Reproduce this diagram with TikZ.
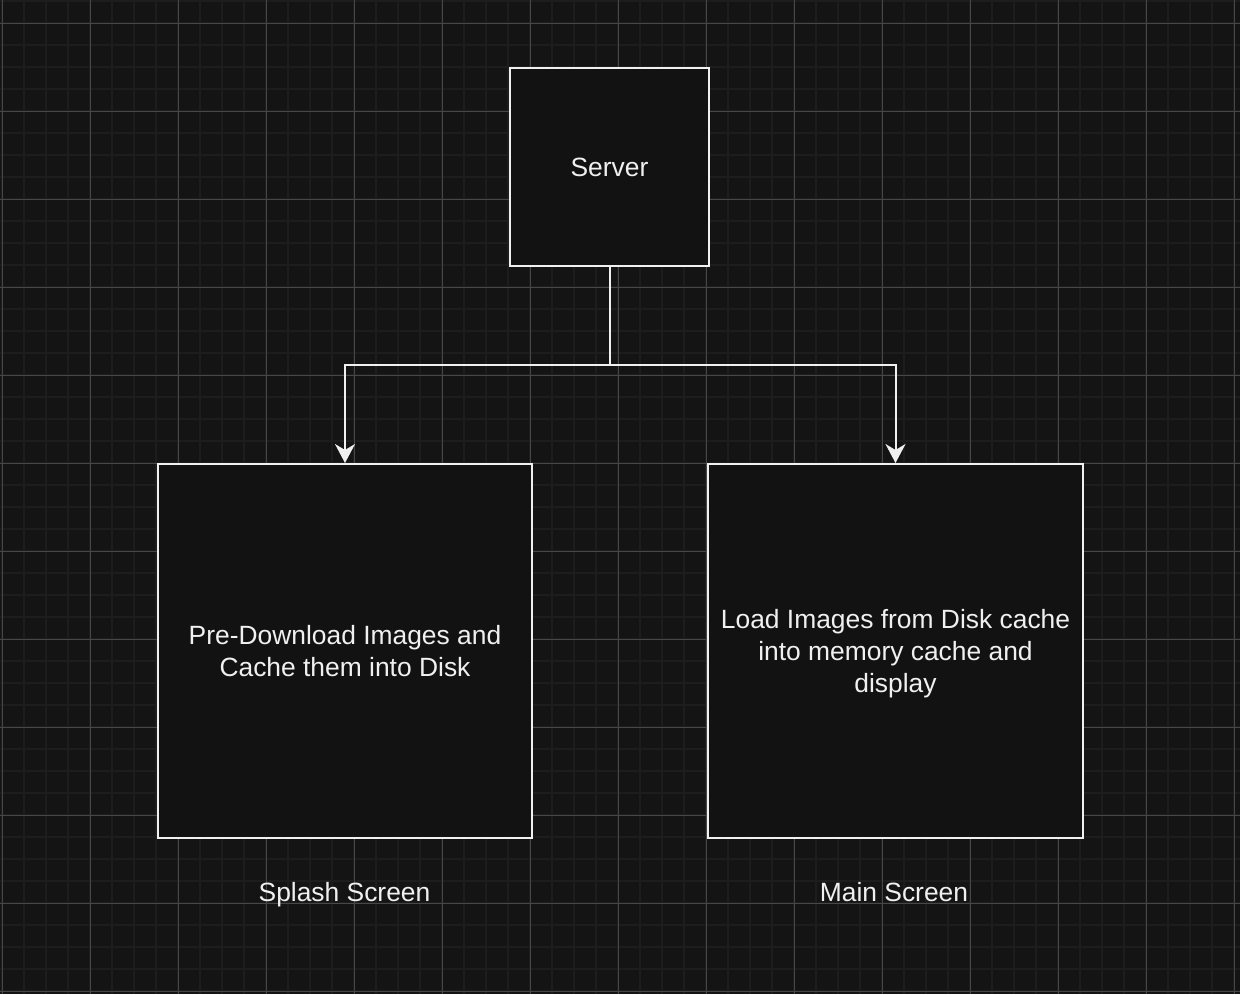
\documentclass[tikz,border=0pt]{standalone}
\usepackage{fontspec}
\setmainfont{Liberation Sans}
\usetikzlibrary{arrows.meta}
\definecolor{bg}{HTML}{141414}
\definecolor{boxfill}{HTML}{121212}
\definecolor{minorgrid}{HTML}{1D1D1D}
\definecolor{majorgrid}{HTML}{474747}
\definecolor{fg}{HTML}{F0F0F0}
\tikzset{
  box/.style={draw=fg, fill=boxfill, line width=2pt, text=fg, align=center, inner sep=0pt,
    text depth=0pt, font=\fontsize{26.4}{31.8}\selectfont},
  lbl/.style={text=fg, inner sep=0pt, anchor=base, font=\fontsize{26.4}{31.8}\selectfont},
  conn/.style={draw=fg, line width=2pt},
  arr/.style={conn, -{Stealth[length=19pt,width=20pt,inset=6pt]}},
}
\begin{document}
\begin{tikzpicture}[x=1pt,y=-1pt]
\useasboundingbox (0,0) rectangle (1240,994);
\fill[bg] (0,0) rectangle (1240,994);
% minor grid
\foreach \k in {0,...,56} \draw[minorgrid, line width=1.6pt] ({2+22*\k},0) -- ({2+22*\k},994);
\foreach \k in {0,...,45} \draw[minorgrid, line width=1.6pt] (0,{1+22*\k}) -- (1240,{1+22*\k});
% major grid
\foreach \k in {0,...,14} \draw[majorgrid, line width=1pt] ({2+88*\k},0) -- ({2+88*\k},994);
\foreach \k in {0,...,11} \draw[majorgrid, line width=1pt] (0,{23+88*\k}) -- (1240,{23+88*\k});

\node[box, minimum width=199pt, minimum height=198pt] (server) at (609.5,167) {Server};
\node[box, minimum width=374pt, minimum height=374pt] (splash) at (345,651)
  {Pre-Download Images and\\Cache them into Disk};
\node[box, minimum width=375pt, minimum height=374pt] (main) at (895.5,651)
  {Load Images from Disk cache\\into memory cache and\\display};
\node[lbl] (splashlbl) at (344.5,901.7) {Splash Screen};
\node[lbl] (mainlbl) at (894,901.7) {Main Screen};

\coordinate (junction) at (609.5,365);
\draw[conn] (server.south) -- (junction);
\draw[arr] (junction) -| (splash.north);
\draw[arr] (junction) -| (main.north);
\end{tikzpicture}
\end{document}
